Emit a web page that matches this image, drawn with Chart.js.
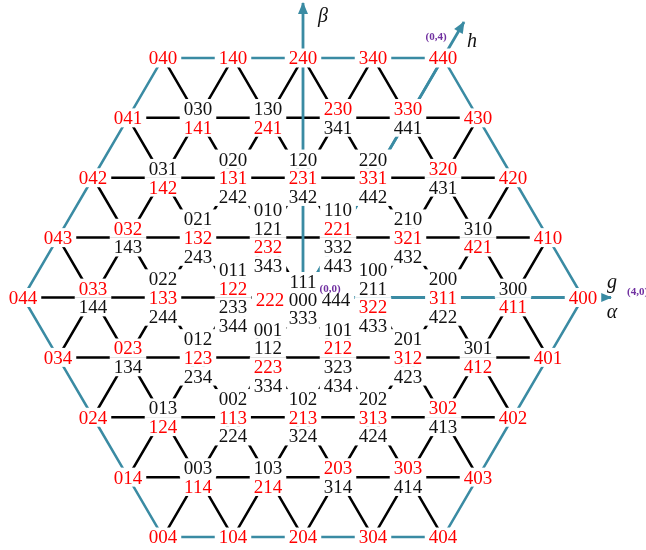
<!DOCTYPE html>
<html>
<head>
<meta charset="utf-8">
<script src="https://cdn.jsdelivr.net/npm/chart.js@4.4.1/dist/chart.umd.min.js"></script>
<style>
  html, body { margin: 0; padding: 0; background: #ffffff; }
  #wrap { width: 646px; height: 550px; }
</style>
</head>
<body>
<div id="wrap"><canvas id="lattice" width="646" height="550"></canvas></div>
<script>
// Each label "abc" sits on the triangular lattice at (g, h) = (a - b, b - c).
// Labels sharing a lattice point are stacked by increasing b.
const redLabels = [
  '040', '140', '240', '340', '440',
  '041', '141', '241', '230', '330', '430',
  '042', '142', '131', '231', '331', '320', '420',
  '043', '032', '132', '232', '221', '321', '421', '410',
  '044', '033', '133', '122', '222', '322', '311', '411', '400',
  '034', '023', '123', '223', '212', '312', '412', '401',
  '024', '124', '113', '213', '313', '302', '402',
  '014', '114', '214', '203', '303', '403',
  '004', '104', '204', '304', '404'
];
const blackLabels = [
  '030', '130', '341', '441',
  '031', '020', '242', '120', '342', '220', '442', '431',
  '143', '021', '243', '010', '121', '343', '110', '332', '443', '210', '432', '310',
  '144', '022', '244', '011', '233', '344', '000', '111', '333', '444', '100', '211', '433', '200', '422', '300',
  '134', '012', '234', '001', '112', '334', '101', '323', '434', '201', '423', '301',
  '013', '002', '224', '102', '324', '202', '424', '413',
  '003', '103', '314', '414'
];
// Corner coordinates printed beside the axes
const cornerTags = [
  { text: '(0,0)', g: 0, h: 0 },
  { text: '(0,4)', g: 0, h: 4 },
  { text: '(4,0)', g: 4, h: 0 }
];
// Axis arrows: g and h run along lattice directions, beta is vertical
const axisG = { from: 0, to: 4.4 };
const axisH = { from: 0, to: 4.6 };
const axisBeta = { from: 0, to: 4.26 };

const SQ = Math.sqrt(3) / 2;
const TEAL = '#3a8ba3';
const RED = '#ff0000';
const PURPLE = '#7030a0';

function cell(s) {
  const [a, b, c] = s.split('').map(Number);
  return { g: a - b, h: b - c, b };
}
const toXY = (g, h) => ({ x: g + h / 2, y: h * SQ });

// group labels by lattice point
const groups = new Map();
redLabels.map(t => ({ t, red: true })).concat(blackLabels.map(t => ({ t, red: false })))
  .forEach(L => {
    const c = cell(L.t);
    const key = c.g + ',' + c.h;
    if (!groups.has(key)) groups.set(key, { g: c.g, h: c.h, items: [] });
    groups.get(key).items.push({ text: L.t, red: L.red, b: c.b });
  });
groups.forEach(G => G.items.sort((p, q) => p.b - q.b));

// lattice edges between neighbouring occupied points
const ring = p => Math.max(Math.abs(p.g), Math.abs(p.h), Math.abs(p.g + p.h));
function isTeal(p, q) {
  if (ring(p) === 4 && ring(q) === 4) return true;
  if (p.h === 0 && q.h === 0 && p.g >= 0 && q.g >= 0) return true;
  if (p.g === 0 && q.g === 0 && p.h >= 0 && q.h >= 0) return true;
  return false;
}
const blackPath = [], tealPath = [];
const gap = { x: NaN, y: NaN };
groups.forEach(p => {
  [[1, 0], [0, 1], [-1, 1]].forEach(([dg, dh]) => {
    const q = groups.get((p.g + dg) + ',' + (p.h + dh));
    if (!q) return;
    const path = isTeal(p, q) ? tealPath : blackPath;
    path.push(toXY(p.g, p.h), toXY(q.g, q.h), gap);
  });
});

// arrow shafts (arrowheads are filled in the plugin)
const HEAD = 11, HALF = 5;
const shaftPath = [
  toXY(axisG.from, 0), toXY(axisG.to, 0), gap,
  toXY(0, axisH.from), toXY(0, axisH.to), gap,
  { x: 0, y: axisBeta.from }, { x: 0, y: axisBeta.to }, gap
];

const lineStyle = {
  showLine: true, pointRadius: 0, pointHoverRadius: 0, fill: false,
  spanGaps: false, tension: 0, borderWidth: 2.5
};

const labelPlugin = {
  id: 'latticeLabels',
  beforeDatasetsDraw(chart) {
    const ctx = chart.ctx;
    ctx.save();
    ctx.fillStyle = '#ffffff';
    ctx.fillRect(0, 0, chart.width, chart.height);
    ctx.restore();
  },
  afterDatasetsDraw(chart) {
    const ctx = chart.ctx;
    const xs = chart.scales.x, ys = chart.scales.y;
    const P = (x, y) => [xs.getPixelForValue(x), ys.getPixelForValue(y)];

    // arrowheads
    const head = (fx, fy, tx, ty) => {
      const [x0, y0] = P(fx, fy), [x1, y1] = P(tx, ty);
      const L = Math.hypot(x1 - x0, y1 - y0);
      const ux = (x1 - x0) / L, uy = (y1 - y0) / L;
      const bx = x1 - ux * HEAD, by = y1 - uy * HEAD;
      ctx.beginPath();
      ctx.moveTo(x1 + ux * 1, y1 + uy * 1);
      ctx.lineTo(bx - uy * HALF, by + ux * HALF);
      ctx.lineTo(bx + uy * HALF, by - ux * HALF);
      ctx.closePath();
      ctx.fill();
    };
    ctx.save();
    ctx.fillStyle = TEAL;
    let a = toXY(axisG.from, 0), b = toXY(axisG.to, 0);
    head(a.x, a.y, b.x, b.y);
    a = toXY(0, axisH.from); b = toXY(0, axisH.to);
    head(a.x, a.y, b.x, b.y);
    head(0, axisBeta.from, 0, axisBeta.to);
    ctx.restore();

    // label layout
    const FS = 19, STEP = 18.7, PADX = 4, HH = 9.5;
    const placed = [];
    groups.forEach(G => {
      const [cx, cy] = P(toXY(G.g, G.h).x, toXY(G.g, G.h).y);
      if (G.g === 0 && G.h === 0) {
        const pos = { '111': [0, -16], '000': [0, 2], '333': [0, 20.5], '222': [-33, 2], '444': [33, 2] };
        G.items.forEach(it => placed.push({ ...it, x: cx + pos[it.text][0], y: cy + pos[it.text][1] }));
      } else {
        const n = G.items.length;
        G.items.forEach((it, i) => placed.push({ ...it, x: cx, y: cy + (i - (n - 1) / 2) * STEP }));
      }
    });
    ctx.save();
    ctx.font = FS + 'px "Liberation Serif", "Times New Roman", serif';
    ctx.fillStyle = '#ffffff';
    placed.forEach(p => {
      const w = ctx.measureText(p.text).width;
      ctx.fillRect(p.x - w / 2 - PADX, p.y - HH, w + 2 * PADX, 2 * HH);
    });
    ctx.textAlign = 'center';
    ctx.textBaseline = 'alphabetic';
    placed.forEach(p => {
      ctx.fillStyle = p.red ? RED : '#111111';
      ctx.fillText(p.text, p.x, p.y + 0.34 * FS);
    });
    ctx.restore();

    // corner coordinates
    ctx.save();
    ctx.font = 'bold 11px "Liberation Serif", "Times New Roman", serif';
    ctx.fillStyle = PURPLE;
    ctx.textBaseline = 'middle';
    const tagOffset = { '(0,0)': [27, -8, 'center'], '(0,4)': [-7, -21, 'center'], '(4,0)': [44, -5, 'left'] };
    cornerTags.forEach(t => {
      const q = toXY(t.g, t.h);
      const [x, y] = P(q.x, q.y);
      const o = tagOffset[t.text];
      ctx.textAlign = o[2];
      ctx.fillText(t.text, x + o[0], y + o[1]);
    });
    ctx.restore();

    // axis names
    ctx.save();
    ctx.font = 'italic 20px "Liberation Serif", "Times New Roman", serif';
    ctx.fillStyle = '#111111';
    ctx.textAlign = 'center';
    ctx.textBaseline = 'middle';
    const [bx, by] = P(0, axisBeta.to);
    ctx.fillText('\u03B2', bx + 20, by + 14);
    const ht = toXY(0, axisH.to);
    const [hx, hy] = P(ht.x, ht.y);
    ctx.fillText('h', hx + 8, hy + 20);
    const [gx, gy] = P(axisG.to, 0);
    ctx.fillText('g', gx + 1, gy - 15);
    ctx.fillText('\u03B1', gx + 1, gy + 15);
    ctx.restore();
  }
};

new Chart(document.getElementById('lattice').getContext('2d'), {
  type: 'scatter',
  data: {
    datasets: [
      { ...lineStyle, data: shaftPath, borderColor: TEAL, borderWidth: 2.8, order: 0 },
      { ...lineStyle, data: tealPath, borderColor: TEAL, order: 1 },
      { ...lineStyle, data: blackPath, borderColor: '#000000', order: 2 }
    ]
  },
  options: {
    responsive: false,
    animation: false,
    events: [],
    layout: { padding: 0 },
    plugins: { legend: { display: false }, tooltip: { enabled: false } },
    scales: {
      x: { type: 'linear', min: -303 / 70, max: 343 / 70, display: false },
      y: { type: 'linear', min: -252.5 / 69.14, max: 297.5 / 69.14, display: false }
    }
  },
  plugins: [labelPlugin]
});
</script>
</body>
</html>
